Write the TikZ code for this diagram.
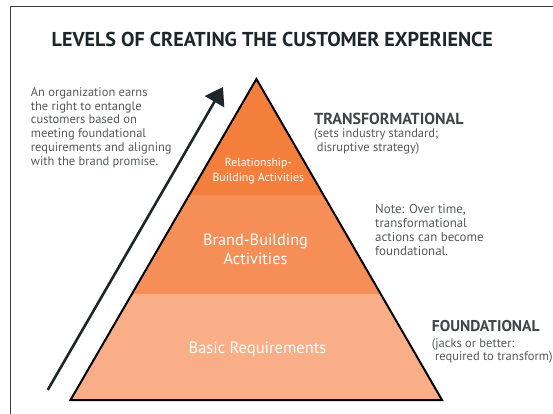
\documentclass[tikz,border=0pt]{standalone}
\usepackage{fontspec}
\setmainfont{PT Sans}
\usetikzlibrary{calc,arrows.meta}

\definecolor{framegrey}{HTML}{3A3F42}
\definecolor{titleink}{HTML}{1D262B}
\definecolor{noteink}{HTML}{55595C}
\definecolor{headink}{HTML}{3F4447}
\definecolor{toporange}{HTML}{F47E3B}
\definecolor{midorange}{HTML}{F68E58}
\definecolor{loworange}{HTML}{F9AE88}

\begin{document}
\begin{tikzpicture}[
    x=1pt,
    y=-1pt,
    every node/.style={inner sep=0pt, align=left, anchor=base west},
    note/.style={text=noteink, font=\fontsize{12.5}{13.7}\selectfont},
    level head/.style={text=headink, font=\bfseries\fontsize{16}{18}\selectfont},
    band label/.style={anchor=base, align=center, text=white}]

    \useasboundingbox (0,0) rectangle (553,414);

    % Frame
    \draw [framegrey, line width=1.3pt] (10.7,414) -- (10.7,6.7) -- (553,6.7);

    % Title
    \node [text=titleink, font=\bfseries\fontsize{20.1}{22}\selectfont] (title) at (51.5,47)
          {LEVELS OF CREATING THE CUSTOMER EXPERIENCE};

    % Pyramid corners
    \coordinate (apex) at (256.4,79);
    \coordinate (bl) at (70.5,400);
    \coordinate (br) at (442,400);

    % Bands, top to bottom
    \foreach \a/\b/\c in {0/0.3614/toporange, 0.3614/0.6698/midorange, 0.6698/1/loworange} {
      \fill [\c] ($(apex)!\a!(bl)$) -- ($(apex)!\b!(bl)$)
                 -- ($(apex)!\b!(br)$) -- ($(apex)!\a!(br)$) -- cycle;
    }
    \draw [line width=2pt] (apex) -- (bl) -- (br) -- cycle;

    % Band labels (base = last line)
    \node [band label, font=\fontsize{11.8}{15.7}\selectfont] (relation) at (258.3,181.7)
          {Relationship-\\Building Activities};
    \node [band label, font=\fontsize{16.3}{18.6}\selectfont] (brand) at (255.5,264.3)
          {Brand-Building\\Activities};
    \node [band label, font=\fontsize{16.5}{19}\selectfont] (basic) at (257.5,353.3)
          {Basic Requirements};

    % Rising arrow
    \coordinate (rise start) at (47.7,390);
    \coordinate (rise end) at (223,87);
    \draw [titleink, line width=2.6pt, -{Triangle[length=17pt, width=22pt]}]
          (rise start) -- (rise end);

    % Left note
    \node [note] (earns) at (30.7,165)
          {An organization earns\\the right to entangle\\customers based on\\meeting foundational\\requirements and aligning\\with the brand promise.};

    % Transformational level
    \node [level head] (transform) at (314,124.3) {TRANSFORMATIONAL};
    \node [note] (transform note) at (314,151)
          {(sets industry standard;\\\hspace{2.7pt}disruptive strategy)};

    % Note on the middle
    \node [note, font=\fontsize{12.9}{13.7}\selectfont] (overtime) at (375,255)
          {Note: Over time,\\transformational\\actions can become\\foundational.};

    % Foundational level
    \node [level head, font=\bfseries\fontsize{15.6}{18}\selectfont] (found) at (431.7,331.7) {FOUNDATIONAL};
    \node [note, font=\fontsize{12.5}{12.5}\selectfont] (found note) at (431.7,360)
          {(jacks or better:\\\hspace{3.3pt}required to transform)};
\end{tikzpicture}
\end{document}
